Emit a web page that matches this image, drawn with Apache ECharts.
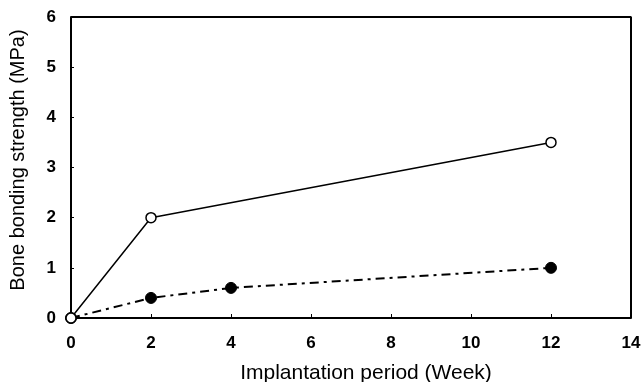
<!DOCTYPE html>
<html>
<head>
<meta charset="utf-8">
<script src="https://cdn.jsdelivr.net/npm/echarts@6/dist/echarts.min.js"></script>
<style>
  html, body { margin: 0; padding: 0; background: #fff; }
  #chart { width: 641px; height: 382px; }
</style>
</head>
<body>
<div id="chart"></div>
<script>
// weeks after implantation
const openWeeks = [0, 2, 12];
const openStrength = [0, 2.0, 3.5];
const filledWeeks = [0, 2, 4, 12];
const filledStrength = [0, 0.4, 0.6, 1.0];

const chart = echarts.init(document.getElementById('chart'));

const tickFont = {
  color: '#000',
  fontFamily: '"Liberation Sans Narrow", "Liberation Sans", sans-serif',
  fontSize: 17,
  fontWeight: 'bold'
};

const option = {
  backgroundColor: '#fff',
  animation: false,
  grid: { left: 71, right: 10, top: 17, bottom: 64, outerBoundsMode: 'none' },
  xAxis: {
    type: 'value',
    min: 0, max: 14, interval: 2,
    name: 'Implantation period (Week)',
    nameLocation: 'middle',
    nameGap: 45,
    nameTextStyle: { color: '#000', fontFamily: 'Liberation Sans', fontSize: 21, padding: [0, 0, 0, 30] },
    axisLine: { show: true, onZero: false, lineStyle: { color: '#000', width: 2 } },
    axisTick: { show: true, inside: true, length: 4, lineStyle: { color: '#000' } },
    axisLabel: Object.assign({ margin: 17 }, tickFont),
    splitLine: { show: false }
  },
  yAxis: {
    type: 'value',
    min: 0, max: 6, interval: 1,
    name: 'Bone bonding strength (MPa)',
    nameLocation: 'middle',
    nameGap: 43,
    nameTextStyle: { color: '#000', fontFamily: 'Liberation Sans', fontSize: 20, padding: [0, 0, 0, 15] },
    axisLine: { show: true, lineStyle: { color: '#000', width: 2 } },
    axisTick: { show: true, inside: true, length: 3, lineStyle: { color: '#000' } },
    axisLabel: Object.assign({ margin: 15 }, tickFont),
    splitLine: { show: false }
  },
  series: [
    {
      name: 'open',
      type: 'line',
      data: openWeeks.map((w, i) => [w, openStrength[i]]),
      symbol: 'circle',
      symbolSize: 10,
      itemStyle: { color: '#fff', borderColor: '#000', borderWidth: 1.5 },
      lineStyle: { color: '#000', width: 1.5 },
      z: 3
    },
    {
      name: 'filled',
      type: 'line',
      data: filledWeeks.map((w, i) => [w, filledStrength[i]]),
      symbol: 'circle',
      symbolSize: 11,
      itemStyle: { color: '#000', borderColor: '#000', borderWidth: 1 },
      lineStyle: { color: '#000', width: 2, type: [9, 5, 3, 5] },
      z: 2
    },
    {
      // frame: top and right edges of the plot box
      name: 'frame',
      type: 'line',
      data: [[0, 6], [14, 6], [14, 0]],
      symbol: 'none',
      silent: true,
      lineStyle: { color: '#000', width: 2 },
      z: 1
    }
  ]
};

chart.setOption(option);
</script>
</body>
</html>
